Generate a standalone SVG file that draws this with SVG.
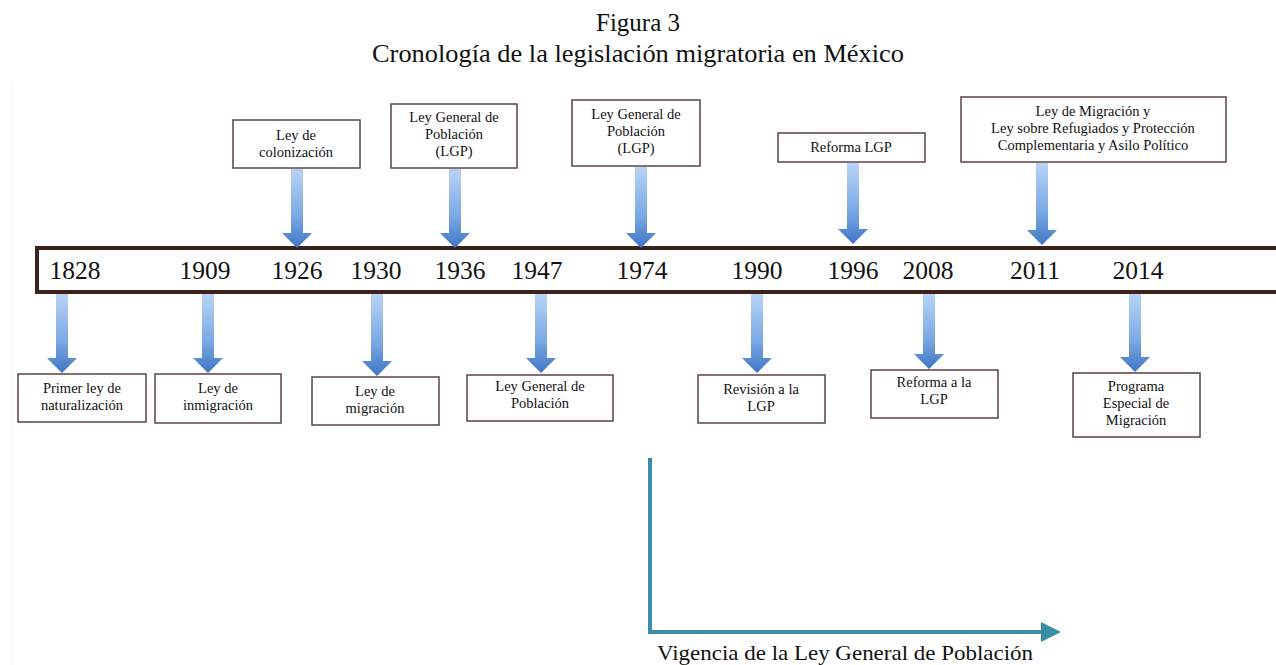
<svg xmlns="http://www.w3.org/2000/svg" width="1276" height="665" viewBox="0 0 1276 665">
<defs>
<style>
.t{font-family:"Liberation Serif","DejaVu Serif",serif;fill:#111;text-anchor:middle}
.title{font-size:25px}
.yr{font-size:25.5px}
.bx{fill:#fff;stroke:#5b4343;stroke-width:1.5}
.lb{font-size:14.5px}
.ar{fill:url(#ag)}
</style>
<linearGradient id="ag" x1="0" y1="0" x2="0" y2="1">
<stop offset="0" stop-color="#b8d4f6"/>
<stop offset="0.6" stop-color="#7aa8e4"/>
<stop offset="1" stop-color="#3f76c4"/>
</linearGradient>
<marker id="tm" viewBox="0 0 10 10" refX="2" refY="5" markerWidth="5" markerHeight="5" orient="auto">
<path d="M0,0 L10,5 L0,10 Z" fill="#3a8ea3"/>
</marker>
</defs>
<rect width="1276" height="665" fill="#fff"/>
<line x1="12" y1="85" x2="12" y2="665" stroke="#f0f0f0" stroke-width="1"/>
<g id="title">
<text class="t title" x="638" y="31">Figura 3</text>
<text class="t title" x="638" y="62" textLength="532" lengthAdjust="spacingAndGlyphs">Cronología de la legislación migratoria en México</text>
</g>
<g id="timeline">
<rect x="37" y="248" width="1245" height="44" fill="#fff" stroke="#3d211b" stroke-width="4"/>
<text class="t yr" x="75" y="279">1828</text>
<text class="t yr" x="205" y="279">1909</text>
<text class="t yr" x="297" y="279">1926</text>
<text class="t yr" x="376" y="279">1930</text>
<text class="t yr" x="460" y="279">1936</text>
<text class="t yr" x="537" y="279">1947</text>
<text class="t yr" x="642" y="279">1974</text>
<text class="t yr" x="757" y="279">1990</text>
<text class="t yr" x="853" y="279">1996</text>
<text class="t yr" x="928" y="279">2008</text>
<text class="t yr" x="1035" y="279">2011</text>
<text class="t yr" x="1138" y="279">2014</text>
</g>
<g id="connectors">
<path class="ar" d="M291,169 h12 v64 h9 l-15,15 l-15,-15 h9 z"/>
<path class="ar" d="M449,169 h12 v64 h9 l-15,15 l-15,-15 h9 z"/>
<path class="ar" d="M635,167 h12 v66 h9 l-15,15 l-15,-15 h9 z"/>
<path class="ar" d="M847,163 h12 v66 h9 l-15,15 l-15,-15 h9 z"/>
<path class="ar" d="M1036,163 h12 v67 h9 l-15,15 l-15,-15 h9 z"/>
<path class="ar" d="M56,294 h12 v64 h9 l-15,15 l-15,-15 h9 z"/>
<path class="ar" d="M202,294 h12 v64 h9 l-15,15 l-15,-15 h9 z"/>
<path class="ar" d="M371,294 h12 v67 h9 l-15,15 l-15,-15 h9 z"/>
<path class="ar" d="M535,294 h12 v64 h9 l-15,15 l-15,-15 h9 z"/>
<path class="ar" d="M751,294 h12 v64 h9 l-15,15 l-15,-15 h9 z"/>
<path class="ar" d="M923,294 h12 v60 h9 l-15,15 l-15,-15 h9 z"/>
<path class="ar" d="M1129,294 h12 v63 h9 l-15,15 l-15,-15 h9 z"/>
<path d="M650,458 V632 H1045" fill="none" stroke="#3a8ea3" stroke-width="4" marker-end="url(#tm)"/>
</g>
<g id="n1926">
<rect class="bx" x="233" y="120" width="127" height="48"/>
<text class="t lb" x="296" y="140">Ley de</text>
<text class="t lb" x="296" y="157">colonización</text>
</g>
<g id="n1936">
<rect class="bx" x="391" y="104" width="126" height="64"/>
<text class="t lb" x="454" y="122">Ley General de</text>
<text class="t lb" x="454" y="139">Población</text>
<text class="t lb" x="454" y="156">(LGP)</text>
</g>
<g id="n1974">
<rect class="bx" x="572" y="100" width="128" height="66"/>
<text class="t lb" x="636" y="119">Ley General de</text>
<text class="t lb" x="636" y="136">Población</text>
<text class="t lb" x="636" y="153">(LGP)</text>
</g>
<g id="n1996">
<rect class="bx" x="778" y="133" width="147" height="29"/>
<text class="t lb" x="851" y="152">Reforma  LGP</text>
</g>
<g id="n2011">
<rect class="bx" x="961" y="97" width="265" height="65"/>
<text class="t lb" x="1093" y="116">Ley de Migración y</text>
<text class="t lb" x="1093" y="133">Ley sobre Refugiados  y  Protección</text>
<text class="t lb" x="1093" y="150">Complementaria   y Asilo Político</text>
</g>
<g id="n1828">
<rect class="bx" x="18" y="374" width="128" height="48"/>
<text class="t lb" x="82" y="393">Primer  ley de</text>
<text class="t lb" x="82" y="410">naturalización</text>
</g>
<g id="n1909">
<rect class="bx" x="155" y="374" width="126" height="49"/>
<text class="t lb" x="218" y="393">Ley de</text>
<text class="t lb" x="218" y="410">inmigración</text>
</g>
<g id="n1930">
<rect class="bx" x="312" y="377" width="127" height="48"/>
<text class="t lb" x="375" y="396">Ley de</text>
<text class="t lb" x="375" y="413">migración</text>
</g>
<g id="n1947">
<rect class="bx" x="467" y="375" width="146" height="46"/>
<text class="t lb" x="540" y="391">Ley General de</text>
<text class="t lb" x="540" y="408">Población</text>
</g>
<g id="n1990">
<rect class="bx" x="698" y="375" width="127" height="48"/>
<text class="t lb" x="761" y="394">Revisión a la</text>
<text class="t lb" x="761" y="411">LGP</text>
</g>
<g id="n2008">
<rect class="bx" x="871" y="370" width="127" height="48"/>
<text class="t lb" x="934" y="387">Reforma  a la</text>
<text class="t lb" x="934" y="404">LGP</text>
</g>
<g id="n2014">
<rect class="bx" x="1073" y="373" width="127" height="64"/>
<text class="t lb" x="1136" y="391">Programa</text>
<text class="t lb" x="1136" y="408">Especial de</text>
<text class="t lb" x="1136" y="425">Migración</text>
</g>
<g id="vigencia">
<text class="t" x="845" y="660" font-size="22" textLength="376" lengthAdjust="spacingAndGlyphs">Vigencia de la Ley General de Población</text>
</g>
</svg>
